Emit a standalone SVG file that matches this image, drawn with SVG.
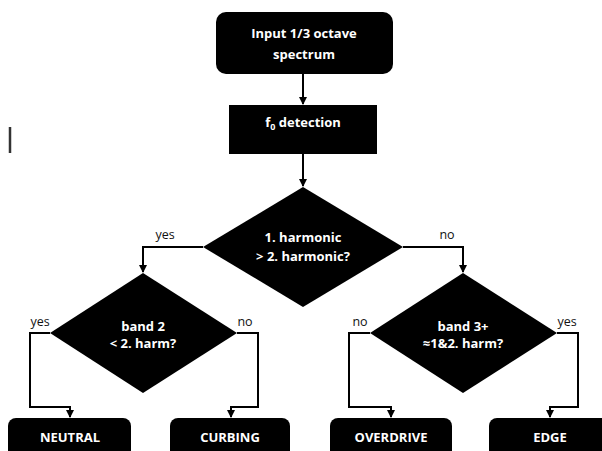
<svg xmlns="http://www.w3.org/2000/svg" width="602" height="451" viewBox="0 0 602 451">
<defs>
<marker id="arr" markerWidth="8" markerHeight="8" refX="7" refY="4" orient="auto" markerUnits="userSpaceOnUse">
<path d="M0,0 L8,4 L0,8 Z" fill="#000"/>
</marker>
<style>
.shape{fill:#000;stroke:none}
.t{fill:#fff;font-family:"Open Sans","Liberation Sans",sans-serif;font-weight:bold;font-size:13px;text-anchor:middle}
.lbl{fill:#111;font-family:"Open Sans","Liberation Sans",sans-serif;font-size:12.5px;text-anchor:middle}
.c{fill:none;stroke:#000;stroke-width:2;marker-end:url(#arr)}
</style>
</defs>
<rect width="602" height="451" fill="#fff"/>
<line x1="10" y1="127" x2="10" y2="153" stroke="#333" stroke-width="2.5"/>
<g id="connectors">
<path class="c" d="M303,74 V104"/>
<path class="c" d="M303,154 V186"/>
<path class="c" d="M203,247 H143 V272"/>
<path class="c" d="M403,247 H463 V272"/>
<path class="c" d="M50,333 H30 V407 H70 V417"/>
<path class="c" d="M237,333 H258 V407 H231 V417"/>
<path class="c" d="M370,333 H349 V407 H391 V417"/>
<path class="c" d="M557,333 H578 V407 H550 V417"/>
<text class="lbl" x="165" y="239">yes</text>
<text class="lbl" x="447" y="239">no</text>
<text class="lbl" x="40" y="326">yes</text>
<text class="lbl" x="245" y="326">no</text>
<text class="lbl" x="360" y="326">no</text>
<text class="lbl" x="567" y="326">yes</text>
</g>
<g id="input">
<rect class="shape" x="216" y="12" width="177" height="62" rx="10"/>
<text class="t" x="304" y="38">Input 1/3 octave</text>
<text class="t" x="304" y="59">spectrum</text>
</g>
<g id="f0">
<rect class="shape" x="229" y="105" width="148" height="49"/>
<text class="t" x="303" y="127">f<tspan font-size="9" dy="3">0</tspan><tspan dy="-3"> detection</tspan></text>
</g>
<g id="dec1">
<polygon class="shape" points="303,187 403,247 303,307 203,247"/>
<text class="t" x="303" y="242">1. harmonic</text>
<text class="t" x="303" y="261">&gt; 2. harmonic?</text>
</g>
<g id="dec2">
<polygon class="shape" points="143,273 237,333 143,393 50,333"/>
<text class="t" x="143" y="331">band 2</text>
<text class="t" x="143" y="348">&lt; 2. harm?</text>
</g>
<g id="dec3">
<polygon class="shape" points="463,273 557,333 463,393 370,333"/>
<text class="t" x="463" y="331">band 3+</text>
<text class="t" x="463" y="348">≈1&amp;2. harm?</text>
</g>
<g id="neutral">
<rect class="shape" x="8" y="418" width="123" height="42" rx="8"/>
<text class="t" x="70" y="442">NEUTRAL</text>
</g>
<g id="curbing">
<rect class="shape" x="170" y="418" width="120" height="42" rx="8"/>
<text class="t" x="230" y="442">CURBING</text>
</g>
<g id="overdrive">
<rect class="shape" x="330" y="418" width="122" height="42" rx="8"/>
<text class="t" x="391" y="442">OVERDRIVE</text>
</g>
<g id="edge">
<rect class="shape" x="489" y="418" width="122" height="42" rx="8"/>
<text class="t" x="550" y="442">EDGE</text>
</g>
</svg>
